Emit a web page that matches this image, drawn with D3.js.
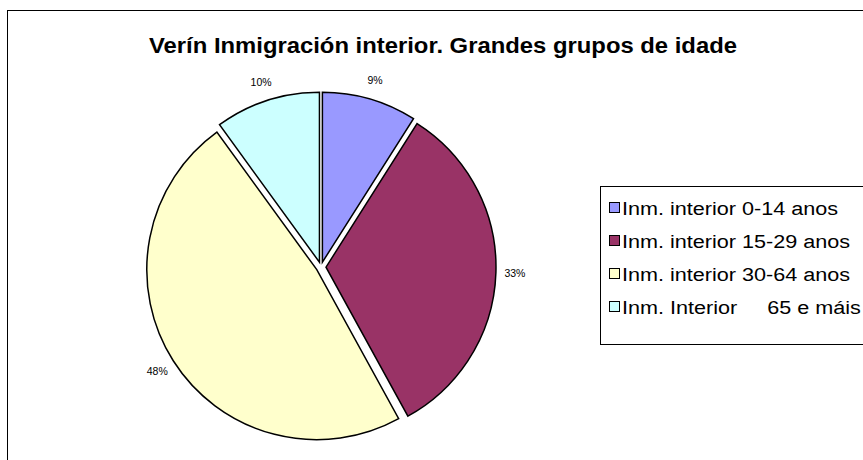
<!DOCTYPE html>
<html><head><meta charset="utf-8">
<script src="https://cdn.jsdelivr.net/npm/d3@7"></script>
<style>body{margin:0;background:#fff}svg{display:block}text{font-family:"Liberation Sans",Arial,sans-serif}</style>
</head><body>
<script>
const categories = ["Inm. interior 0-14 anos","Inm. interior 15-29 anos","Inm. interior 30-64 anos","Inm. Interior     65 e máis"];
const values = [9, 33, 48, 10];
const labels = ["9%","33%","48%","10%"];
const colors = ["#9999FF","#993366","#FFFFCC","#CCFFFF"];
const title = "Verín Inmigración interior. Grandes grupos de idade";

const W=863,H=460;
const svg=d3.select("body").append("svg").attr("width",W).attr("height",H);
svg.append("rect").attr("x",7.5).attr("y",10.5).attr("width",W).attr("height",H).attr("fill","#fff").attr("stroke","#000").attr("stroke-width",1);
svg.append("text").attr("x",443).attr("y",53).attr("text-anchor","middle").attr("font-size",22).attr("font-weight","bold")
  .attr("textLength",588).attr("lengthAdjust","spacingAndGlyphs").text(title);

const cx=321, cy=267, r=170, ex=5;
const pie=d3.pie().sort(null).value(d=>d);
const arcs=pie(values);
const arc=d3.arc().innerRadius(0).outerRadius(r);
const g=svg.append("g").attr("transform",`translate(${cx},${cy})`);
arcs.forEach((a,i)=>{
  const m=(a.startAngle+a.endAngle)/2;
  const dx=Math.sin(m)*ex, dy=-Math.cos(m)*ex;
  g.append("path").attr("d",arc(a)).attr("transform",`translate(${dx},${dy})`)
   .attr("fill",colors[i]).attr("stroke","#000").attr("stroke-width",1.5).attr("stroke-linejoin","miter");
  const lr=r+19;
  g.append("text").attr("x",Math.sin(m)*lr+dx).attr("y",-Math.cos(m)*lr+dy).attr("dy","0.35em")
   .attr("text-anchor","middle").attr("font-size",10.5).attr("fill","#000").text(labels[i]);
});

const lg=svg.append("g");
lg.append("rect").attr("x",600.5).attr("y",186.5).attr("width",300).attr("height",158).attr("fill","#fff").attr("stroke","#000");
const ly=d3.scaleBand().domain(categories).range([191.5,323.5]).padding(0);
const k=1.2;
categories.forEach((c,i)=>{
  const yc=ly(c)+ly.bandwidth()/2;
  lg.append("rect").attr("x",609.5).attr("y",yc-5.5).attr("width",10).attr("height",10).attr("fill",colors[i]).attr("stroke","#000");
  const t=lg.append("text").attr("x",622).attr("y",yc+6.5).attr("font-size",18).attr("xml:space","preserve").style("white-space","pre").text(c);
  const L=t.node().getComputedTextLength();
  t.attr("textLength",L*k).attr("lengthAdjust","spacingAndGlyphs");
});
</script>
</body></html>
